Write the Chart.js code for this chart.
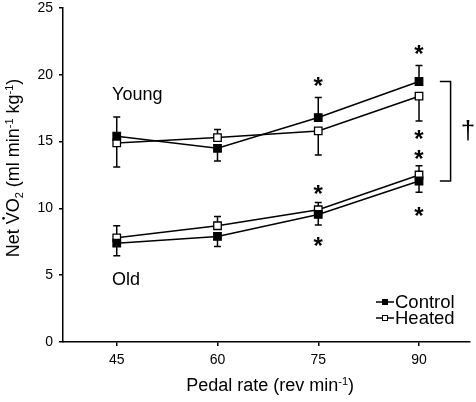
<!DOCTYPE html>
<html>
<head>
<meta charset="utf-8">
<script src="https://cdn.jsdelivr.net/npm/chart.js@4"></script>
<style>
  html, body { margin: 0; padding: 0; background: #fff; }
  #wrap { width: 476px; height: 402px; }
</style>
</head>
<body>
<div id="wrap"><canvas id="chart" width="476" height="402"></canvas></div>
<script>
// Pedal rates and tick labels
const rates = [45, 60, 75, 90]
const xTicks = [45, 60, 75, 90]
const yTicks = [0, 5, 10, 15, 20, 25]

// Net VO2 means
const youngControl = [15.4, 14.5, 16.8, 19.5]
const youngHeated = [14.9, 15.3, 15.8, 18.4]
const oldControl = [7.4, 7.9, 9.55, 12.05]
const oldHeated = [7.8, 8.7, 9.9, 12.5]

// one-sided error bars: size and direction (+1 up, -1 down)
const youngControlErr = [1.45, 0.95, 1.5, 1.2]
const youngControlDir = [1, -1, 1, 1]
const youngHeatedErr = [1.8, 0.6, 1.8, 1.85]
const youngHeatedDir = [-1, 1, -1, -1]
const oldControlErr = [0.95, 0.75, 0.8, 0.85]
const oldControlDir = [-1, -1, -1, -1]
const oldHeatedErr = [0.9, 0.7, 0.55, 0.7]
const oldHeatedDir = [1, 1, 1, 1]

// significance asterisks
const starX = [75, 90, 90, 90, 75, 75, 90]
const starY = [19.5, 21.9, 15.5, 14.0, 11.4, 7.5, 9.75]

const FONT = "'Liberation Sans', Arial, Helvetica, sans-serif"

function series(label, values, err, dir, filled) {
  return {
    label: label,
    data: rates.map((x, i) => ({ x: x, y: values[i] })),
    err: err,
    dir: dir,
    borderColor: "#000",
    borderWidth: 1.5,
    pointStyle: "rect",
    pointRadius: 5.3,
    pointBorderWidth: 1.3,
    pointBackgroundColor: filled ? "#000" : "#fff",
    pointBorderColor: "#000",
    tension: 0,
    fill: false
  }
}

// draw text made of normal / sub / sup pieces, centred on (x, y)
function drawRich(ctx, parts, x, y, size, angle) {
  const fontFor = p => (p.sub || p.sup ? Math.round(size * 0.62) : size) + "px " + FONT
  let total = 0
  parts.forEach(p => { ctx.font = fontFor(p); p.w = ctx.measureText(p.t).width; total += p.w })
  ctx.save()
  ctx.translate(x, y)
  ctx.rotate(angle)
  ctx.fillStyle = "#000"
  ctx.textBaseline = "alphabetic"
  ctx.textAlign = "left"
  let cx = -total / 2
  parts.forEach(p => {
    ctx.font = fontFor(p)
    let dy = 0
    if (p.sup) dy = -size * 0.36
    if (p.sub) dy = size * 0.2
    ctx.fillText(p.t, cx, dy)
    if (p.dot) {
      ctx.beginPath()
      ctx.arc(cx + p.w / 2, -size * 0.86, 1.3, 0, Math.PI * 2)
      ctx.fill()
    }
    cx += p.w
  })
  ctx.restore()
}

const extras = {
  id: "extras",
  beforeDatasetsDraw(chart) {
    const { ctx, scales: { x, y } } = chart
    ctx.save()
    ctx.strokeStyle = "#000"
    ctx.lineWidth = 1.5
    chart.data.datasets.forEach(ds => {
      ds.data.forEach((pt, i) => {
        const px = x.getPixelForValue(pt.x)
        const y0 = y.getPixelForValue(pt.y)
        const y1 = y.getPixelForValue(pt.y + ds.dir[i] * ds.err[i])
        ctx.beginPath()
        ctx.moveTo(px, y0)
        ctx.lineTo(px, y1)
        ctx.moveTo(px - 3.5, y1)
        ctx.lineTo(px + 3.5, y1)
        ctx.stroke()
      })
    })
    ctx.restore()
  },
  afterDraw(chart) {
    const { ctx, chartArea, scales: { x, y } } = chart
    ctx.save()
    ctx.fillStyle = "#000"
    ctx.strokeStyle = "#000"

    // asterisks
    ctx.font = "bold 24px " + FONT
    ctx.textAlign = "center"
    ctx.textBaseline = "alphabetic"
    const m = ctx.measureText("*")
    const mid = (m.actualBoundingBoxAscent - m.actualBoundingBoxDescent) / 2
    starX.forEach((sx, i) => {
      ctx.fillText("*", x.getPixelForValue(sx), y.getPixelForValue(starY[i]) + mid)
    })

    // group labels
    ctx.font = "18px " + FONT
    ctx.textAlign = "left"
    ctx.textBaseline = "middle"
    ctx.fillText("Young", x.getPixelForValue(44.3), y.getPixelForValue(18.5))
    ctx.fillText("Old", x.getPixelForValue(44.3), y.getPixelForValue(4.65))

    // bracket between groups at 90 rev/min
    const bx0 = x.getPixelForValue(93.1)
    const bx1 = x.getPixelForValue(94.7)
    const by0 = y.getPixelForValue(youngControl[3])
    const by1 = y.getPixelForValue(oldControl[3])
    ctx.lineWidth = 1.5
    ctx.beginPath()
    ctx.moveTo(bx0, by0)
    ctx.lineTo(bx1, by0)
    ctx.lineTo(bx1, by1)
    ctx.lineTo(bx0, by1)
    ctx.stroke()
    ctx.font = "26px " + FONT
    ctx.textAlign = "center"
    ctx.fillText("\u2020", x.getPixelForValue(97.3), (by0 + by1) / 2 + 1)

    // legend
    const lx = 376, ly = [302, 318]
    const filled = [true, false]
    const names = ["Control", "Heated"]
    ctx.font = "18.5px " + FONT
    ctx.textAlign = "left"
    ctx.textBaseline = "middle"
    names.forEach((n, i) => {
      ctx.lineWidth = 1.5
      ctx.beginPath()
      ctx.moveTo(lx, ly[i])
      ctx.lineTo(lx + 18, ly[i])
      ctx.stroke()
      ctx.fillStyle = filled[i] ? "#000" : "#fff"
      ctx.fillRect(lx + 6, ly[i] - 3, 6, 6)
      ctx.lineWidth = 1
      ctx.strokeRect(lx + 6.5, ly[i] - 2.5, 5, 5)
      ctx.fillStyle = "#000"
      ctx.fillText(n, lx + 19, ly[i] + 1)
    })

    // axis titles
    drawRich(ctx, [
      { t: "Pedal rate (rev min" }, { t: "-1", sup: true }, { t: ")" }
    ], (chartArea.left + chartArea.right) / 2 + 4, 391, 18, 0)
    drawRich(ctx, [
      { t: "Net " }, { t: "V", dot: true }, { t: "O" }, { t: "2", sub: true },
      { t: " (ml min" }, { t: "-1", sup: true }, { t: " kg" }, { t: "-1", sup: true }, { t: ")" }
    ], 19, 168, 18, -Math.PI / 2)
    ctx.restore()
  }
}

new Chart(document.getElementById("chart"), {
  type: "line",
  data: {
    datasets: [
      series("Young control", youngControl, youngControlErr, youngControlDir, true),
      series("Young heated", youngHeated, youngHeatedErr, youngHeatedDir, false),
      series("Old control", oldControl, oldControlErr, oldControlDir, true),
      series("Old heated", oldHeated, oldHeatedErr, oldHeatedDir, false)
    ]
  },
  options: {
    responsive: false,
    animation: false,
    layout: { padding: { left: 18, top: 8, right: 6, bottom: 0 } },
    plugins: {
      legend: { display: false },
      tooltip: { enabled: false }
    },
    scales: {
      x: {
        type: "linear",
        min: 37,
        max: 97.5,
        afterBuildTicks: s => { s.ticks = xTicks.map(v => ({ value: v })) },
        afterFit: s => { s.height = 60; s.paddingLeft = 0; s.paddingRight = 0 },
        border: { display: true, color: "#000", width: 1.5 },
        grid: { display: true, drawOnChartArea: false, drawTicks: true, tickLength: 4, color: "#000", lineWidth: 1.5 },
        ticks: { color: "#000", padding: 6, font: { family: FONT, size: 14 }, maxRotation: 0 }
      },
      y: {
        min: 0,
        max: 25,
        afterBuildTicks: s => { s.ticks = yTicks.map(v => ({ value: v })) },
        afterFit: s => { s.width = 45; s.paddingTop = 0; s.paddingBottom = 0 },
        border: { display: true, color: "#000", width: 1.5 },
        grid: { display: true, drawOnChartArea: false, drawTicks: true, tickLength: 4, color: "#000", lineWidth: 1.5 },
        ticks: { color: "#000", padding: 6, font: { family: FONT, size: 14 } }
      }
    }
  },
  plugins: [extras]
})
</script>
</body>
</html>
